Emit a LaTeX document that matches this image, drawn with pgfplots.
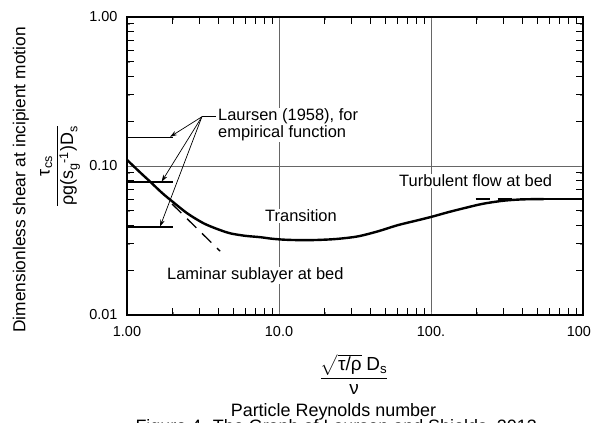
\documentclass[border=0pt]{standalone}
\usepackage{fontspec}
\setmainfont{Liberation Sans}
\usepackage{amsmath}
\usepackage{pgfplots}
\pgfplotsset{compat=1.18}
\usetikzlibrary{arrows.meta}

\begin{document}
\begin{tikzpicture}
\begin{axis}[
  at={(127bp,108bp)}, anchor=south west,
  scale only axis, width=456bp, height=298bp,
  xmode=log, ymode=log,
  xmin=1, xmax=1000, ymin=0.01, ymax=1,
  xtick={1,10,100,1000}, xticklabels={1.00,10.0,100.,1000},
  ytick={0.01,0.1,1}, yticklabels={0.01,0.10,1.00},
  grid=major,
  major grid style={black!60, line width=0.8bp},
  axis line style={line width=1.3bp},
  major tick length=0bp,
  tick label style={font=\fontsize{14.5}{17}\selectfont},
  xticklabel style={yshift=-8bp},
  yticklabel style={xshift=-6bp},
  clip=false,
]
% Laursen (1958) empirical levels
\addplot[black, line width=1.2bp] coordinates {(1,0.156) (2.02,0.156)};
\addplot[black, line width=1.2bp] coordinates {(1,0.078) (2.02,0.078)};
\addplot[black, line width=1.2bp] coordinates {(1,0.039) (2.02,0.039)};

% laminar sublayer asymptote
\addplot[black, line width=1.3bp, dash pattern=on 13bp off 8bp] coordinates {(1.98,0.0556) (4.1,0.0268)};
% turbulent asymptote
\addplot[black, line width=1.3bp, dash pattern=on 14bp off 8bp] coordinates {(197,0.06) (550,0.06)};
\addplot[black, line width=1.3bp] coordinates {(550,0.06) (1000,0.06)};

% Shields curve
\addplot[black, line width=2.4bp, smooth] coordinates {
 (1,0.110) (1.2,0.092) (1.42,0.0785) (1.7,0.066) (2,0.0575) (2.5,0.048)
 (3.2,0.0412) (4,0.0375) (4.8,0.0353) (6,0.0340) (7.5,0.0333) (9,0.0325)
 (11,0.0320) (14,0.0318) (18,0.0319) (24,0.0324) (33,0.0337) (45,0.0365)
 (60,0.0400) (80,0.0430) (100,0.0455) (130,0.0490) (170,0.0525) (220,0.0558)
 (300,0.0585) (400,0.0597) (550,0.0600)
};

\draw[line width=0.7bp] (axis cs:3.11,0.214) -- (axis cs:3.85,0.214);
\draw[line width=0.7bp, -{Stealth[length=7bp,width=4.5bp]}] (axis cs:3.11,0.214) -- (axis cs:1.92,0.157);
\draw[line width=0.7bp, -{Stealth[length=7bp,width=4.5bp]}] (axis cs:3.11,0.214) -- (axis cs:1.69,0.0785);
\draw[line width=0.7bp, -{Stealth[length=7bp,width=4.5bp]}] (axis cs:3.11,0.214) -- (axis cs:1.65,0.0392);
\end{axis}

% minor ticks on the frame (frame: x 127..583 bp, y 108..406 bp)
\begin{scope}[x=1bp, y=1bp, black, line width=1bp]
\foreach \d in {0,1,2}{
  \foreach \f in {0.30103,0.47712,0.60206,0.69897,0.77815,0.84510,0.90309,0.95424}{
    \draw ({127+152*(\d+\f)},108) -- ++(0,7);
    \draw ({127+152*(\d+\f)},406) -- ++(0,-7);
  }
}
\foreach \d in {0,1}{
  \foreach \f in {0.30103,0.47712,0.60206,0.69897,0.77815,0.84510,0.90309,0.95424}{
    \draw (127,{108+149*(\d+\f)}) -- ++(7,0);
    \draw (583,{108+149*(\d+\f)}) -- ++(-7,0);
  }
}
\end{scope}

\begin{scope}[every node/.style={fill=white, inner sep=1bp, font=\fontsize{16.5}{19}\selectfont}]
\node[anchor=base west] at (217bp,302bp) {Laursen (1958), for};
\node[anchor=base west] at (217bp,285bp) {empirical function};
\node[anchor=base] at (301bp,201bp) {Transition};
\node[anchor=base west] at (166bp,143bp) {Laminar sublayer at bed};
\node[anchor=base west] at (398bp,236bp) {Turbulent flow at bed};
\end{scope}

\node[font=\fontsize{19}{22}\selectfont] at (354bp,49bp)
  {$\displaystyle\frac{\sqrt{\text{τ/ρ}}\;\text{D}_{\text{s}}}{\text{ν}}$};
\node[anchor=base, font=\fontsize{18}{21}\selectfont] at (333.5bp,6.3bp) {Particle Reynolds number};
\node[rotate=90, font=\fontsize{17.4}{20}\selectfont] at (21bp,243bp) {Dimensionless shear at incipient motion};
\node[rotate=90, font=\fontsize{18}{21}\selectfont] at (60bp,257bp)
  {$\displaystyle\frac{\text{τ}_{\text{cs}}}{\text{ρg(s}_{\text{g}}{}^{\text{-1}}\text{)D}_{\text{s}}}$};
\node[anchor=base west, font=\fontsize{18}{21}\selectfont] at (132bp,-9bp) {Figure 4. The Graph of Laursen and Shields, 2013};

\pgfresetboundingbox
\path[use as bounding box] (0,0) rectangle (591bp,423bp);
\end{tikzpicture}
\end{document}
